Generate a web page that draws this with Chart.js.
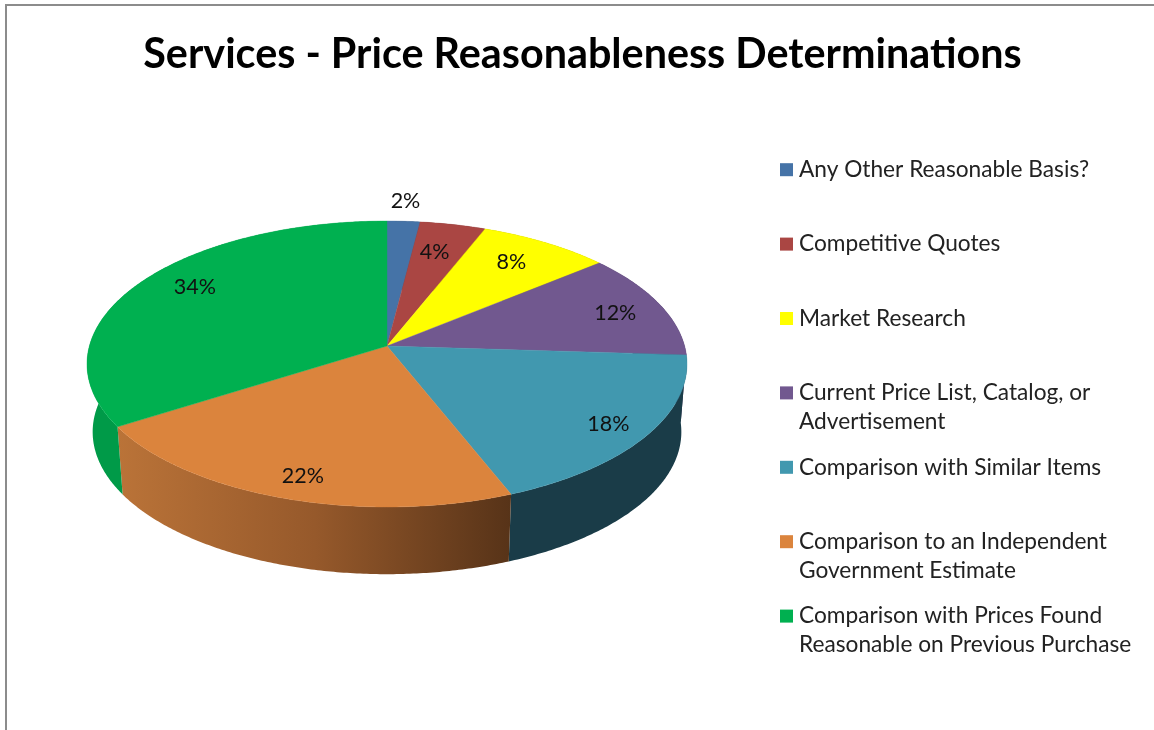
<!DOCTYPE html>
<html><head><meta charset="utf-8">
<style>html,body{margin:0;padding:0;background:#fff;overflow:hidden}canvas{display:block}</style>
<script src="https://cdn.jsdelivr.net/npm/chart.js@4/dist/chart.umd.min.js"></script>
</head><body>
<canvas id="c" width="1154" height="730"></canvas>
<script>
const categories = ["Any Other Reasonable Basis?","Competitive Quotes","Market Research","Current Price List, Catalog, or Advertisement","Comparison with Similar Items","Comparison to an Independent Government Estimate","Comparison with Prices Found Reasonable on Previous Purchase"];
const shares = [2,4,8,12,18,22,34];
const titleText = "Services - Price Reasonableness Determinations";
const topColors = ["#4573A7","#AA4643","#FFFF00","#71588F","#4198AF","#DB843D","#00B050"];
const wallColors = ["#2a4568","#6a2b29","#9a9a00","#3f3155","#1A3C48","#000","#009A48"];
// label nudges from the computed anchor (px)
const labelNudge = [[0,-6],[-5,3],[-2,-2],[14,0],[22,10],[-5,15],[2,-8]];
const labelRadius = [1.13,.78,.78,.78,.78,.78,.78];

const persp = {cx:387, cy:346, X:297.6, Y:140.7, k:.126, lowX:292, lowY:140, drop:68};
function project(a, r, low){
  const s = 1/(1 - persp.k*r*Math.sin(a));
  const X = low ? persp.lowX : persp.X, Y = low ? persp.lowY : persp.Y, d = low ? persp.drop : 0;
  return [persp.cx + X*r*Math.cos(a)*s, persp.cy + d + Y*r*Math.sin(a)*s];
}
function arcPath(ctx, a0, a1, low, move){
  const n = Math.max(2, Math.ceil(Math.abs(a1-a0)/0.01));
  for(let i=0;i<=n;i++){
    const p = project(a0+(a1-a0)*i/n, 1, low);
    (i===0 && move) ? ctx.moveTo(p[0],p[1]) : ctx.lineTo(p[0],p[1]);
  }
}
// wall swept between the top rim and the lower rim, one path so no seams
function wallPath(ctx, a0, a1){
  const n = Math.max(2, Math.ceil((a1-a0)/0.01));
  for(let i=0;i<n;i++){
    const b0=a0+(a1-a0)*i/n, b1=a0+(a1-a0)*(i+1)/n;
    const p=[project(b0,1,false),project(b1,1,false),project(b1,1,true),project(b0,1,true)];
    ctx.moveTo(p[0][0],p[0][1]);
    for(let j=1;j<4;j++) ctx.lineTo(p[j][0],p[j][1]);
    ctx.closePath();
  }
}
const pie3d = {
  id:'pie3d',
  beforeDraw(chart){
    const ctx = chart.ctx;
    ctx.save();
    ctx.fillStyle='#fff'; ctx.fillRect(0,0,chart.width,chart.height);
    ctx.strokeStyle='#8c8c8c'; ctx.lineWidth=2;
    ctx.beginPath(); ctx.moveTo(6,chart.height); ctx.lineTo(6,5); ctx.lineTo(chart.width,5); ctx.stroke();
    ctx.restore();
  },
  beforeDatasetsDraw(chart){
    const ctx = chart.ctx, arcs = chart.getDatasetMeta(0).data;
    ctx.save();
    arcs.forEach((el,i)=>{
      let fill = wallColors[i];
      if(i===5){
        const g = ctx.createLinearGradient(119,0,511,0);
        g.addColorStop(0,'#BA7338'); g.addColorStop(.5,'#96592B'); g.addColorStop(1,'#573318');
        fill = g;
      }
      ctx.beginPath();
      wallPath(ctx,el.startAngle,el.endAngle);
      ctx.fillStyle=fill; ctx.fill();
    });
    arcs.forEach((el,i)=>{
      ctx.beginPath();
      ctx.moveTo(persp.cx,persp.cy);
      arcPath(ctx,el.startAngle,el.endAngle,false,false);
      ctx.closePath();
      ctx.fillStyle=topColors[i]; ctx.fill();
      ctx.strokeStyle=topColors[i]; ctx.lineWidth=.4; ctx.stroke();
    });
    ctx.font='21.5px Lato'; ctx.fillStyle='#111';
    ctx.textAlign='center'; ctx.textBaseline='middle';
    arcs.forEach((el,i)=>{
      const p = project((el.startAngle+el.endAngle)/2, labelRadius[i], false);
      ctx.fillText(shares[i]+'%', p[0]+labelNudge[i][0], p[1]+labelNudge[i][1]);
    });
    // legend
    ctx.font='22.7px Lato';
    ctx.textAlign='left';
    categories.forEach((name,i)=>{
      const y = 169.7 + i*74.4;
      ctx.fillStyle=topColors[i]; ctx.fillRect(780,y-6.5,13,13);
      const words=name.split(' '), lines=[]; let line='';
      words.forEach(w=>{const t=line?line+' '+w:w; if(ctx.measureText(t).width>345){lines.push(line);line=w;}else line=t;});
      lines.push(line);
      ctx.fillStyle='#222';
      lines.forEach((l,j)=>ctx.fillText(l,799,y+j*29));
    });
    ctx.restore();
    return false;
  }
};
new Chart(document.getElementById('c'),{
  type:'pie',
  data:{labels:categories,datasets:[{data:shares,backgroundColor:topColors,borderWidth:0}]},
  options:{responsive:false,animation:false,
    layout:{padding:{left:11}},
    plugins:{legend:{display:false},tooltip:{enabled:false},
      title:{display:true,text:titleText,color:'#000',font:{family:'Lato',size:41.3,weight:'bold'},padding:{top:30,bottom:10}}}},
  plugins:[pie3d]
});
</script>
</body></html>
